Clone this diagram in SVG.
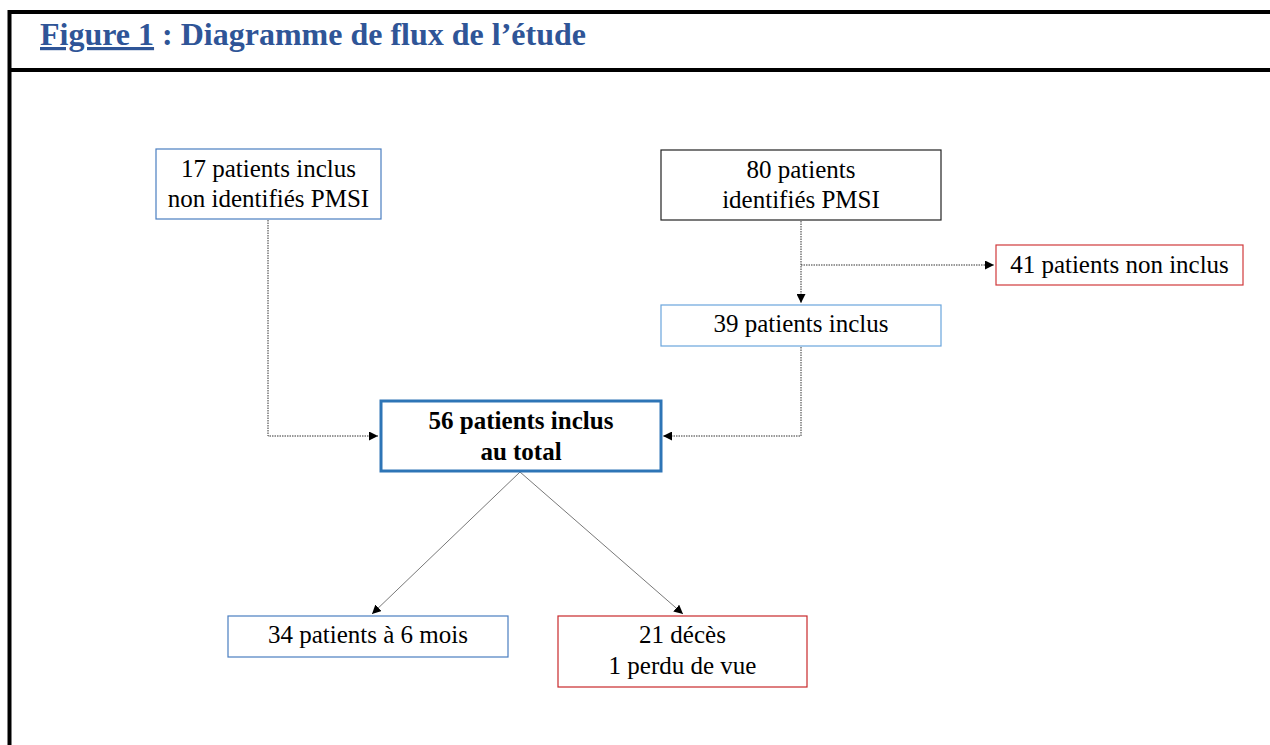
<svg xmlns="http://www.w3.org/2000/svg" width="1270" height="745" viewBox="0 0 1270 745">
<style>
.t{font-family:"Liberation Serif","Times New Roman",serif;font-size:25px;fill:#000;text-anchor:middle}
.b{font-weight:bold}
.box{fill:#fff;stroke-width:1.2}
.thick{stroke-width:3}
.dot{fill:none;stroke:#333;stroke-width:1;stroke-dasharray:1.5 1}
.sol{fill:none;stroke:#555;stroke-width:0.8}
</style>
<defs>
<marker id="ah" viewBox="0 0 10 10" refX="10" refY="5" markerWidth="9" markerHeight="9" markerUnits="userSpaceOnUse" orient="auto">
<path d="M0,0 L10,5 L0,10 z" fill="#000"/>
</marker>
</defs>
<rect width="1270" height="745" fill="#fff"/>
<g id="frame">
<line x1="9.5" y1="10" x2="9.5" y2="745" stroke="#000" stroke-width="4"/>
<line x1="8" y1="12" x2="1270" y2="12" stroke="#000" stroke-width="4"/>
<line x1="8" y1="70" x2="1270" y2="70" stroke="#000" stroke-width="4"/>
<text x="40" y="45" font-family="Liberation Serif,'Times New Roman',serif" font-size="32" font-weight="bold" fill="#2F5597"><tspan text-decoration="underline">Figure 1</tspan> : Diagramme de flux de l’étude</text>
</g>
<g id="connectors">
<polyline class="dot" points="268,220 268,436 378,436" marker-end="url(#ah)"/>
<line class="dot" x1="801" y1="221" x2="801" y2="303" marker-end="url(#ah)"/>
<line class="dot" x1="801" y1="265" x2="994" y2="265" marker-end="url(#ah)"/>
<polyline class="dot" points="801,347 801,436 663,436" marker-end="url(#ah)"/>
<line class="sol" x1="520" y1="472" x2="372" y2="614" marker-end="url(#ah)"/>
<line class="sol" x1="520" y1="472" x2="683" y2="614" marker-end="url(#ah)"/>
</g>
<g id="nodeA">
<rect class="box" x="156" y="149" width="225" height="70" stroke="#4A7EC0"/>
<text class="t" x="268.5" y="177">17 patients inclus</text>
<text class="t" x="268.5" y="207">non identifiés PMSI</text>
</g>
<g id="nodeB">
<rect class="box" x="661" y="150" width="280" height="70" stroke="#222"/>
<text class="t" x="801" y="178">80 patients</text>
<text class="t" x="801" y="208">identifiés PMSI</text>
</g>
<g id="nodeC">
<rect class="box" x="996" y="245" width="247" height="40" stroke="#D0393B"/>
<text class="t" x="1119.5" y="273">41 patients non inclus</text>
</g>
<g id="nodeD">
<rect class="box" x="661" y="305" width="280" height="41" stroke="#6AA5DC"/>
<text class="t" x="801" y="332">39 patients inclus</text>
</g>
<g id="nodeE">
<rect class="box thick" x="381" y="401" width="280" height="70" stroke="#2E75B6"/>
<text class="t b" x="521" y="429">56 patients inclus</text>
<text class="t b" x="521" y="460">au total</text>
</g>
<g id="nodeF">
<rect class="box" x="228" y="616" width="280" height="41" stroke="#4A7EC0"/>
<text class="t" x="368" y="643">34 patients à 6 mois</text>
</g>
<g id="nodeG">
<rect class="box" x="558" y="616" width="249" height="71" stroke="#C8282B"/>
<text class="t" x="682.5" y="643">21 décès</text>
<text class="t" x="682.5" y="674">1 perdu de vue</text>
</g>
</svg>
